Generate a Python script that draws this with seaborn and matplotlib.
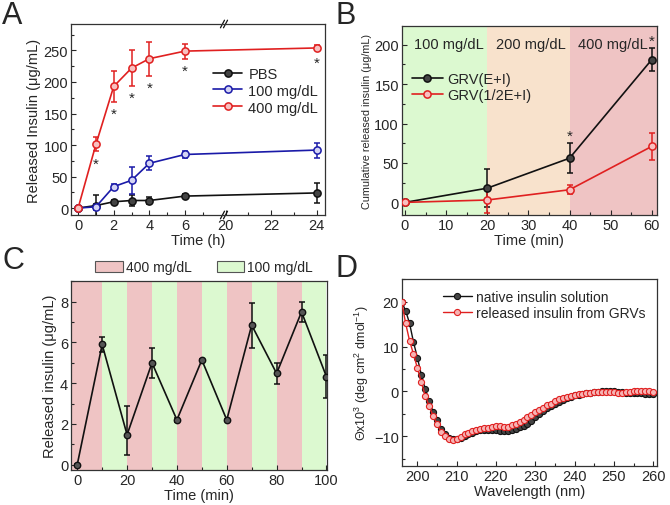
import numpy as np
import seaborn as sns
import matplotlib
matplotlib.use('Agg')
import matplotlib.pyplot as plt
from matplotlib.patches import Patch
from matplotlib.ticker import MultipleLocator, FixedLocator

# ---- panel A: release over time (broken x axis) ----
time_h = [0, 1, 2, 3, 4, 6, 24]
pbs = [0, 4, 10, 12, 12, 19, 24]
pbs_err = [2, 17, 3, 9, 5, 3, 16]
glu100 = [0, 2, 34, 44, 71, 85, 92]
glu100_err = [1, 5, 4, 21, 11, 5, 12]
glu400 = [0, 101, 193, 222, 237, 249, 254]
glu400_err = [2, 11, 24, 28, 27, 12, 4]
stars_a = [1, 2, 3, 4, 6, 24]

# ---- panel B: cumulative release, glucose steps ----
time_b = [0, 20, 40, 60]
grv_full = [0, 18, 56, 181]
grv_full_err = [2, 24, 19, 15]
grv_half = [0, 3, 16, 71]
grv_half_err = [2, 17, 6, 17]
stars_b = [40, 60]
steps_b = [(0, 20, '100 mg/dL'), (20, 40, '200 mg/dL'), (40, 61.2, '400 mg/dL')]

# ---- panel C: pulsatile release ----
time_c = [0, 10, 20, 30, 40, 50, 60, 70, 80, 90, 100]
ins_c = [0, 5.9, 1.47, 5.0, 2.2, 5.14, 2.2, 6.85, 4.48, 7.5, 4.32]
err_c_lo = [0.05, 0.35, 0.98, 0.74, 0.08, 0.05, 0.05, 1.1, 0.5, 0.5, 1.05]
err_c_hi = [0.05, 0.35, 1.42, 0.74, 0.08, 0.05, 0.05, 1.1, 0.5, 0.5, 1.05]
pulse_starts = [0, 10, 20, 30, 40, 50, 60, 70, 80, 90]

# ---- panel D: CD spectra ----
wavelength = list(range(196, 261))
native = [20, 18, 15.2, 11, 7.5, 3.7, 0.5, -2.2, -4.5, -6.3,
          -8.3, -9.6, -10.3, -10.6, -10.7, -10.4, -10.0, -9.6, -9.2, -8.9,
          -8.7, -8.6, -8.5, -8.5, -8.6, -8.8, -8.9, -8.8, -8.6, -8.3,
          -8.0, -7.7, -7.3, -6.6, -5.8, -5.0, -4.3, -3.7, -3.2, -2.7,
          -2.3, -1.9, -1.5, -1.2, -0.9, -0.7, -0.5, -0.4, -0.3, -0.2,
          -0.1, 0, 0, 0, 0, -0.1, -0.2, -0.3, -0.3, -0.3,
          -0.3, -0.4, -0.5, -0.5, -0.5]
released = [20, 15.2, 11.3, 8.3, 5.2, 2.0, -1.0, -3.3, -5.5, -7.3,
            -9.0, -10.0, -10.7, -10.8, -10.6, -10.1, -9.6, -9.2, -8.8, -8.5,
            -8.3, -8.2, -8.1, -7.9, -7.8, -7.8, -8.0, -7.9, -7.6, -7.2,
            -6.8, -6.3, -5.8, -5.3, -4.7, -4.1, -3.6, -3.1, -2.7, -2.2,
            -1.8, -1.5, -1.2, -1.0, -0.8, -0.6, -0.5, -0.4, -0.3, -0.2,
            -0.2, -0.2, -0.2, -0.2, -0.2, -0.3, -0.3, -0.2, -0.1, 0,
            0, 0, 0, 0, -0.1]

RED = '#e02020'
BLUE = '#1a1aa8'
BLACK = '#111111'
PINK = '#efc4c4'
GREEN = '#dcf9d0'
PEACH = '#f8e2cc'

sns.set_theme(style='ticks')
plt.rcParams['font.family'] = ['Liberation Sans', 'DejaVu Sans']
plt.rcParams['mathtext.fontset'] = 'custom'
plt.rcParams['mathtext.rm'] = 'Liberation Sans'
plt.rcParams['mathtext.it'] = 'Liberation Sans:italic'
plt.rcParams['xtick.direction'] = 'in'
plt.rcParams['ytick.direction'] = 'in'
plt.rcParams['axes.linewidth'] = 0.9
plt.rcParams['xtick.major.size'] = 3.5
plt.rcParams['ytick.major.size'] = 3.5
plt.rcParams['xtick.minor.size'] = 2
plt.rcParams['ytick.minor.size'] = 2

W, H = 670, 506
fig = plt.figure(figsize=(W / 100, H / 100), dpi=100)


def box(l, r, t, b):
    return [l / W, 1 - b / H, (r - l) / W, (b - t) / H]


def series(ax, x, y, err, color, face, label, ms=5.2):
    ax.errorbar(x, y, yerr=err, fmt='none', ecolor=color, elinewidth=1.1,
                capsize=2, capthick=1.1, zorder=2)
    sns.lineplot(x=x, y=y, ax=ax, color=color, marker='o', markersize=ms,
                 markerfacecolor=face, markeredgecolor=color, markeredgewidth=1.1,
                 linewidth=1.2, label=label, zorder=3)


TICK = 10.5
LAB = 10.5

# ---------------- A ----------------
LO, HI, STRETCH = 8.2, 19.93, 1.28


def fwd(x):
    x = np.asarray(x, dtype=float)
    return np.where(x <= LO, x, np.where(x >= HI, LO + (x - HI) * STRETCH, LO))


def inv(p):
    p = np.asarray(p, dtype=float)
    return np.where(p <= LO, p, HI + (p - LO) / STRETCH)


axA = fig.add_axes(box(71, 325, 25, 216))
axA.set_xscale('function', functions=(fwd, inv))
series(axA, time_h, pbs, pbs_err, BLACK, '#444444', 'PBS')
series(axA, time_h, glu100, glu100_err, BLUE, '#d4d4f4', '100 mg/dL')
series(axA, time_h, glu400, glu400_err, RED, '#f8c0c0', '400 mg/dL')
for t in stars_a:
    i = time_h.index(t)
    axA.annotate('*', (t, glu400[i] - glu400_err[i]), xytext=(0, -9),
                 textcoords='offset points', ha='center', va='center', fontsize=11)
axA.set_xlim(-0.4, 24.36)
axA.set_ylim(-11, 292)
axA.xaxis.set_major_locator(FixedLocator([0, 2, 4, 6, 20, 22, 24]))
axA.xaxis.set_minor_locator(FixedLocator([1, 3, 5, 7, 21, 23]))
axA.yaxis.set_major_locator(MultipleLocator(50))
axA.yaxis.set_minor_locator(MultipleLocator(25))
axA.set_xlabel('Time (h)', fontsize=LAB, labelpad=1)
axA.set_ylabel('Released Insulin (\u03bcg/mL)', fontsize=LAB, labelpad=2)
# break marks on the x axis
for yy in (0, 1):
    for dx in (-0.006, 0.006):
        xb = (224 - 71) / (325 - 71) + dx
        axA.plot([xb - 0.008, xb + 0.008], [yy - 0.02, yy + 0.02], color=BLACK,
                 lw=0.9, transform=axA.transAxes, clip_on=False)
axA.legend(loc='upper left', bbox_to_anchor=(0.52, 0.83), frameon=False,
           fontsize=LAB, handlelength=2.0, handletextpad=0.4, labelspacing=0.2,
           borderpad=0.2)

# ---------------- B ----------------
axB = fig.add_axes(box(401.7, 656.7, 26.7, 216))
bg_b = [GREEN, PEACH, PINK]
for (a, b, txt), c in zip(steps_b, bg_b):
    axB.axvspan(-0.8 if a == 0 else a, b, color=c, lw=0, zorder=0)
    axB.text((a + min(b, 60)) / 2 + 0.6, 201, txt, ha='center', va='center',
             fontsize=10.5)
series(axB, time_b, grv_full, grv_full_err, BLACK, '#444444', 'GRV(E+I)')
series(axB, time_b, grv_half, grv_half_err, RED, '#f8c0c0', 'GRV(1/2E+I)')
for t in stars_b:
    i = time_b.index(t)
    axB.annotate('*', (t, grv_full[i] + grv_full_err[i]), xytext=(0, 5),
                 textcoords='offset points', ha='center', va='center', fontsize=11)
axB.set_xlim(-0.8, 61.2)
axB.set_ylim(-16, 224)
axB.xaxis.set_major_locator(MultipleLocator(10))
axB.xaxis.set_minor_locator(MultipleLocator(5))
axB.yaxis.set_major_locator(MultipleLocator(50))
axB.yaxis.set_minor_locator(MultipleLocator(25))
axB.set_xlabel('Time (min)', fontsize=LAB, labelpad=1)
axB.set_ylabel('Cumulative released insulin (\u03bcg/mL)', fontsize=7.8, labelpad=2)
axB.legend(loc='upper left', bbox_to_anchor=(0.0, 0.81), frameon=False,
           fontsize=LAB, handlelength=2.1, handletextpad=0.3, labelspacing=0.15,
           borderpad=0.2)

# ---------------- C ----------------
axC = fig.add_axes(box(71, 326.7, 281.7, 471))
for k, s in enumerate(pulse_starts):
    axC.axvspan(-2.5 if s == 0 else s, s + 10, color=PINK if k % 2 == 0 else GREEN,
                lw=0, zorder=0)
axC.errorbar(time_c, ins_c, yerr=[err_c_lo, err_c_hi], fmt='none', ecolor=BLACK,
             elinewidth=1.1, capsize=2, capthick=1.1, zorder=2)
sns.lineplot(x=time_c, y=ins_c, ax=axC, color=BLACK, marker='o', markersize=4.6,
             markerfacecolor='#555555', markeredgecolor=BLACK, markeredgewidth=1.0,
             linewidth=1.2, zorder=3)
axC.set_xlim(-2.5, 100.1)
axC.set_ylim(-0.26, 9.03)
axC.xaxis.set_major_locator(MultipleLocator(20))
axC.xaxis.set_minor_locator(MultipleLocator(10))
axC.yaxis.set_major_locator(MultipleLocator(2))
axC.yaxis.set_minor_locator(MultipleLocator(1))
axC.set_xlabel('Time (min)', fontsize=LAB, labelpad=1)
axC.set_ylabel('Released insulin (\u03bcg/mL)', fontsize=LAB, labelpad=2)
handles = [Patch(facecolor=PINK, edgecolor='#555555', lw=0.8),
           Patch(facecolor=GREEN, edgecolor='#555555', lw=0.8)]
axC.legend(handles, ['400 mg/dL', '100 mg/dL'], loc='lower center',
           bbox_to_anchor=(0.52, 0.99), ncol=2, frameon=False, fontsize=10,
           handlelength=2.0, handleheight=0.9, handletextpad=0.2,
           columnspacing=1.8, borderpad=0.1)

# ---------------- D ----------------
axD = fig.add_axes(box(401.7, 656.7, 280, 467.3))
sns.lineplot(x=wavelength, y=native, ax=axD, color=BLACK, marker='o', markersize=4.4,
             markerfacecolor='#444444', markeredgecolor=BLACK, markeredgewidth=0.8,
             linewidth=1.0, label='native insulin solution', zorder=2)
sns.lineplot(x=wavelength, y=released, ax=axD, color=RED, marker='o', markersize=4.4,
             markerfacecolor='#f6b4b4', markeredgecolor=RED, markeredgewidth=0.8,
             linewidth=1.0, label='released insulin from GRVs', zorder=3)
axD.set_xlim(196, 260.9)
axD.set_ylim(-16.7, 25.07)
axD.xaxis.set_major_locator(MultipleLocator(10))
axD.xaxis.set_minor_locator(MultipleLocator(5))
axD.yaxis.set_major_locator(MultipleLocator(10))
axD.yaxis.set_minor_locator(MultipleLocator(5))
axD.set_xlabel('Wavelength (nm)', fontsize=LAB, labelpad=1)
axD.set_ylabel(r'$\Theta$x10$^3$ (deg cm$^2$ dmol$^{-1}$)', fontsize=9, labelpad=2)
axD.legend(loc='upper right', bbox_to_anchor=(1.0, 1.0), frameon=False,
           fontsize=10, handlelength=2.1, handletextpad=0.3, labelspacing=0.1,
           borderpad=0.3)

for ax in (axA, axB, axC, axD):
    ax.tick_params(which='both', labelsize=TICK, pad=2, width=0.8)
    for sp in ax.spines.values():
        sp.set_color('#333333')
    ax.set_facecolor('white')

for txt, x, y in [('A', 2, 1), ('B', 336, 1), ('C', 2, 246), ('D', 336, 254)]:
    fig.text(x / W, 1 - y / H, txt, fontsize=22, ha='left', va='top')

fig.savefig('out.png', dpi=100, facecolor='white')
